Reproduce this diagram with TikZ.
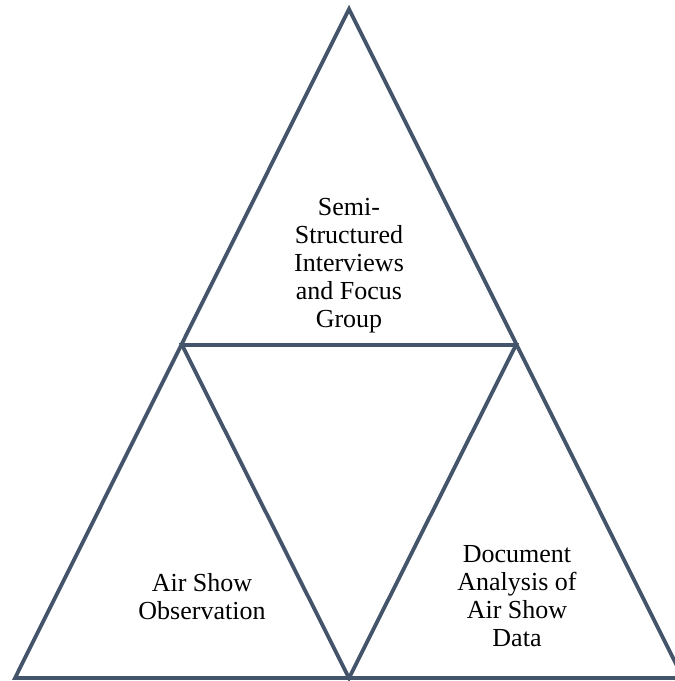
\documentclass[tikz,border=0pt]{standalone}
\usepackage{fontspec}
\setmainfont{Liberation Serif}
\definecolor{edge}{HTML}{44546A}
\begin{document}
\begin{tikzpicture}[x=1pt,y=-1pt,
  side/.style={draw=edge,line width=3.8pt,line join=miter},
  label/.style={align=center,anchor=base,inner sep=0pt,
    font=\fontsize{26}{28}\selectfont}]
\useasboundingbox (0,0) rectangle (675,681);
\clip (0,0) rectangle (675,681);
% corner and midpoint coordinates of the outer triangle
\coordinate (apex) at (349,9);
\coordinate (bl) at (15,678);
\coordinate (br) at (683,678);
\coordinate (ml) at (182,345);
\coordinate (mr) at (516,345);
\coordinate (mb) at (349,678);
% outer triangle
\draw[side] (apex) -- (br) -- (bl) -- cycle;
% inner triangle joining the midpoints
\draw[side] (ml) -- (mr) -- (mb) -- cycle;
% labels (anchored at the baseline of their last line)
\node[label] (top) at (349,327) {Semi-\\Structured\\Interviews\\and Focus\\Group};
\node[label] (left) at (202,619) {Air Show\\Observation};
\node[label] (right) at (517,646) {Document\\Analysis of\\Air Show\\Data};
\end{tikzpicture}
\end{document}
